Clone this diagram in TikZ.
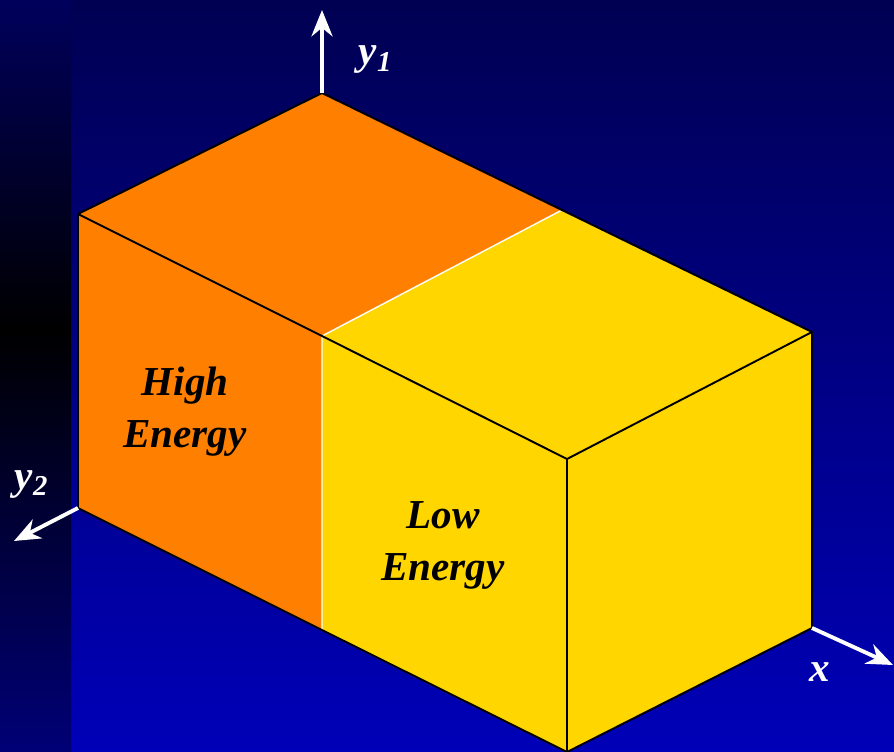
\documentclass[tikz,border=0pt]{standalone}
\usepackage{fontspec}
\setmainfont{Liberation Serif}
\usetikzlibrary{arrows.meta}

\begin{document}
\begin{tikzpicture}[x=0.01cm, y=-0.01cm, every node/.style={font=\fontsize{11.7}{14.8}\selectfont\bfseries\itshape}]
			% Define colors
			\definecolor{bgtop}{RGB}{0, 0, 82}
			\definecolor{bgbottom}{RGB}{0, 0, 184}
			\definecolor{striptop}{RGB}{0, 0, 92}
			\definecolor{stripbottom}{RGB}{0, 0, 118}
			\definecolor{highcol}{RGB}{255, 128, 0}
			\definecolor{lowcol}{RGB}{255, 214, 0}

			% Styles
			\tikzstyle{edge_line} = [draw=black, line width=0.55pt, line join=round]
			\tikzstyle{split_line} = [draw=white, line width=0.4pt]
			\tikzstyle{axis_arrow} = [draw=white, line width=1.1pt, -{Stealth[length=7.5pt, width=6pt]}]
			\tikzstyle{axis_label} = [text=white]
			\tikzstyle{face_label} = [text=black, align=center]

			% Background
			\useasboundingbox (0, 0) rectangle (894, 752);
			\shade[top color=bgtop, bottom color=bgbottom] (71, 0) rectangle (894, 752);
			\shade[top color=striptop, bottom color=black] (0, 0) rectangle (71, 330);
			\shade[top color=black, bottom color=stripbottom] (0, 330) rectangle (71, 752);

			% Corners of the box
			\coordinate (backtop) at (322, 93);
			\coordinate (lefttop) at (78, 214);
			\coordinate (midback) at (562, 210);
			\coordinate (midfront) at (322, 336);
			\coordinate (righttop) at (812, 332);
			\coordinate (fronttop) at (567, 459);
			\coordinate (leftbot) at (78, 508);
			\coordinate (midbot) at (322, 630);
			\coordinate (frontbot) at (567, 752);
			\coordinate (rightbot) at (812, 628);

			% Faces
			\fill[highcol] (lefttop) -- (backtop) -- (midback) -- (midfront) -- cycle;
			\fill[highcol] (lefttop) -- (midfront) -- (midbot) -- (leftbot) -- cycle;
			\fill[lowcol] (midfront) -- (midback) -- (righttop) -- (fronttop) -- cycle;
			\fill[lowcol] (midfront) -- (fronttop) -- (frontbot) -- (midbot) -- cycle;
			\fill[lowcol] (fronttop) -- (righttop) -- (rightbot) -- (frontbot) -- cycle;

			% Split between the two regions
			\draw[split_line] (midback) -- (midfront) -- (midbot);

			% Edges
			\draw[edge_line] (leftbot) -- (lefttop) -- (backtop) -- (righttop) -- (rightbot) -- (frontbot) -- (midbot) -- cycle;
			\draw[edge_line] (lefttop) -- (midfront) -- (fronttop) -- (righttop);
			\draw[edge_line] (fronttop) -- (frontbot);

			% Axes
			\coordinate (y1tip) at (322, 10);
			\coordinate (y2tip) at (14, 541);
			\coordinate (xtip) at (893, 665);
			\draw[axis_arrow] (backtop) -- (y1tip);
			\draw[axis_arrow] (leftbot) -- (y2tip);
			\draw[axis_arrow] (rightbot) -- (xtip);

			% Labels
			\node[axis_label] (y1label) at (376, 60) {y\textsubscript{1}};
			\node[axis_label] (y2label) at (32, 484) {y\textsubscript{2}};
			\node[axis_label] (xlabel) at (820, 672) {x};
			\node[face_label] (high) at (185, 412) {High\\Energy};
			\node[face_label] (low) at (443, 545) {Low\\Energy};

		\end{tikzpicture}
\end{document}
